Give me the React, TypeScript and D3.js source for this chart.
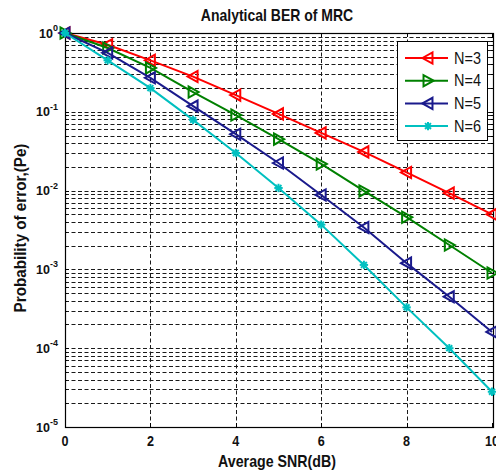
import React from "react";
import * as d3 from "d3";

const snr = [0, 1, 2, 3, 4, 5, 6, 7, 8, 9, 10];
const berN3 = [1, 0.71, 0.45, 0.28, 0.163, 0.094, 0.054, 0.031, 0.017, 0.0093, 0.005];
const berN4 = [1, 0.645, 0.36, 0.178, 0.091, 0.045, 0.0218, 0.0099, 0.0046, 0.00204, 0.0009];
const berN5 = [1, 0.56, 0.27, 0.118, 0.052, 0.0224, 0.0088, 0.0034, 0.0012, 0.00045, 0.000161];
const berN6 = [1, 0.45, 0.2, 0.079, 0.03, 0.0108, 0.0037, 0.00114, 0.00033, 0.0001, 0.000028];
const seriesNames = ["N=3", "N=4", "N=5", "N=6"];
const seriesColors = ["#ff0000", "#008000", "#1a1a8c", "#00c0c0"];
const seriesMarkers = ["left", "right", "left", "star"];
const xTicks = [0, 2, 4, 6, 8, 10];
const yExps = [0, -1, -2, -3, -4, -5];

const W = 496, H = 476;
const L = 65, R = 493, T = 33, B = 427;
const FONT = "'Liberation Sans', Arial, sans-serif";

function Marker({ kind, x, y, color }: { kind: string; x: number; y: number; color: string }) {
  if (kind === "star") {
    const s = 4.2;
    return (
      <g stroke={color} strokeWidth={2}>
        <line x1={x - s} y1={y} x2={x + s} y2={y} />
        <line x1={x} y1={y - s} x2={x} y2={y + s} />
        <line x1={x - s * 0.7} y1={y - s * 0.7} x2={x + s * 0.7} y2={y + s * 0.7} />
        <line x1={x - s * 0.7} y1={y + s * 0.7} x2={x + s * 0.7} y2={y - s * 0.7} />
      </g>
    );
  }
  const h = 5.6;
  const pts =
    kind === "left"
      ? [[x - h, y], [x + h * 0.8, y - h], [x + h * 0.8, y + h]]
      : [[x + h, y], [x - h * 0.8, y - h], [x - h * 0.8, y + h]];
  return <polygon points={pts.map((p) => p.join(",")).join(" ")} fill="none" stroke={color} strokeWidth={2} />;
}

function Txt({
  x, y, size, sy = 1.15, anchor = "start", bold = true, rotate = 0, children,
}: {
  x: number; y: number; size: number; sy?: number; anchor?: string; bold?: boolean; rotate?: number; children: React.ReactNode;
}) {
  return (
    <text
      transform={`translate(${x},${y})${rotate ? ` rotate(${rotate})` : ""} scale(1,${sy})`}
      fontSize={size}
      fontWeight={bold ? "bold" : "normal"}
      textAnchor={anchor}
      fill="#111"
      fontFamily={FONT}
    >
      {children}
    </text>
  );
}

export default function App() {
  const x = d3.scaleLinear().domain([0, 10]).range([L, R - 1]);
  const y = d3.scaleLog().domain([1e-5, 1]).range([B, T]);
  const data = [berN3, berN4, berN5, berN6];
  const line = d3
    .line<number>()
    .x((_, i) => x(snr[i]))
    .y((d) => y(d));

  const minor: number[] = [];
  for (let e = -5; e < 0; e++) {
    for (let k = 2; k <= 9; k++) minor.push(k * Math.pow(10, e));
  }
  const dash = "4,2.5";
  const py = (v: number) => Math.round(y(v)) + 0.5;
  const px = (v: number) => Math.round(x(v)) + 0.5;

  return (
    <svg width={W} height={H} style={{ position: "absolute", left: 0, top: 0, background: "#fff" }} fontFamily={FONT}>
      <rect x={0} y={0} width={W} height={H} fill="#fff" />
      {/* grid */}
      <g stroke="#1a1a1a" strokeWidth={1} strokeDasharray={dash}>
        {minor.map((v, i) => (
          <line key={"m" + i} x1={L} x2={R} y1={py(v)} y2={py(v)} />
        ))}
        {yExps.slice(1, 5).map((e) => (
          <line key={"M" + e} x1={L} x2={R} y1={py(Math.pow(10, e))} y2={py(Math.pow(10, e))} />
        ))}
        {xTicks.slice(1, 5).map((t) => (
          <line key={"x" + t} x1={px(t)} x2={px(t)} y1={T} y2={B} />
        ))}
      </g>
      {/* ticks */}
      <g stroke="#000" strokeWidth={1}>
        {xTicks.map((t) => (
          <g key={"xt" + t}>
            <line x1={px(t)} x2={px(t)} y1={B} y2={B - 4} />
            <line x1={px(t)} x2={px(t)} y1={T} y2={T + 4} />
          </g>
        ))}
        {yExps.map((e) => (
          <g key={"yt" + e}>
            <line x1={L} x2={L + 4} y1={py(Math.pow(10, e))} y2={py(Math.pow(10, e))} />
            <line x1={R - 4} x2={R} y1={py(Math.pow(10, e))} y2={py(Math.pow(10, e))} />
          </g>
        ))}
        {minor.map((v, i) => (
          <g key={"mt" + i}>
            <line x1={L} x2={L + 2} y1={py(v)} y2={py(v)} />
            <line x1={R - 2} x2={R} y1={py(v)} y2={py(v)} />
          </g>
        ))}
      </g>
      <rect x={L + 0.5} y={T + 0.5} width={R - L} height={B - T} fill="none" stroke="#000" strokeWidth={1.2} />
      {/* series */}
      {data.map((d, si) => (
        <g key={"s" + si}>
          <path d={line(d) || ""} fill="none" stroke={seriesColors[si]} strokeWidth={2} />
          {d.map((v, i) => (
            <Marker key={i} kind={seriesMarkers[si]} x={x(snr[i])} y={y(v)} color={seriesColors[si]} />
          ))}
        </g>
      ))}
      {/* tick labels */}
      {xTicks.map((t) => (
        <Txt key={"xl" + t} x={x(t)} y={B + 19} size={12.6} sy={1.12} anchor="middle">
          {t}
        </Txt>
      ))}
      {yExps.map((e) => (
        <Txt key={"yl" + e} x={58} y={y(Math.pow(10, e)) + 4.5} size={12.5} sy={1.08} anchor="end">
          <tspan>10</tspan>
          <tspan dy={-6} fontSize={9}>{e}</tspan>
        </Txt>
      ))}
      {/* legend */}
      <g>
        <rect x={397.5} y={41.5} width={90} height={99} fill="#fff" stroke="#000" strokeWidth={1} />
        {seriesNames.map((n, i) => {
          const ly = 58 + i * 22.7;
          return (
            <g key={n}>
              <line x1={405} x2={448} y1={ly} y2={ly} stroke={seriesColors[i]} strokeWidth={2} />
              <Marker kind={seriesMarkers[i]} x={428} y={ly} color={seriesColors[i]} />
              <Txt x={454} y={ly + 5.7} size={14.5} sy={1.09} bold={false}>
                {n}
              </Txt>
            </g>
          );
        })}
      </g>
      {/* titles */}
      <Txt x={277} y={21} size={14} sy={1.2} anchor="middle">
        Analytical BER of MRC
      </Txt>
      <Txt x={277} y={466.5} size={14.2} sy={1.15} anchor="middle">
        Average SNR(dB)
      </Txt>
      <Txt x={26} y={228} size={15.2} sy={1.12} anchor="middle" rotate={-90}>
        Probability of error,(Pe)
      </Txt>
    </svg>
  );
}
